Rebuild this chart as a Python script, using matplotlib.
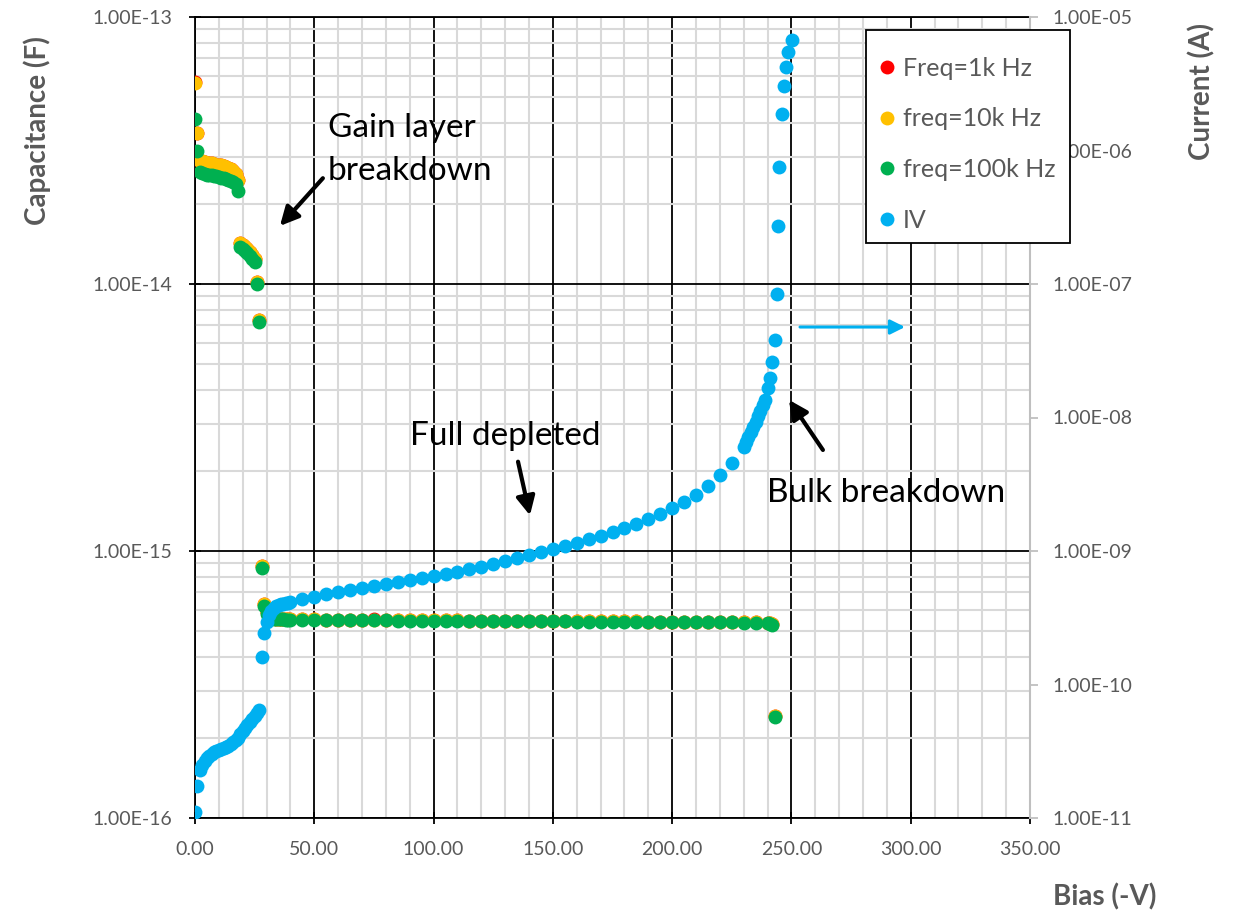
import numpy as np
import matplotlib
matplotlib.use('Agg')
import matplotlib.pyplot as plt
from matplotlib.ticker import MultipleLocator, FixedLocator, LogLocator, FuncFormatter, NullFormatter, NullLocator
from matplotlib.lines import Line2D
from matplotlib.patches import Rectangle

plt.rcParams['font.family'] = ['Lato', 'DejaVu Sans']

# ---- datos C-V (capacitancia en fF) ----
cv_bias = [0, 1, 2, 3, 4, 5, 6, 7, 8, 9, 10, 11, 12, 13, 14, 15, 16, 17, 18, 19,
           20, 21, 22, 23, 24, 25, 26, 27, 28, 29, 30, 31, 32, 33, 34, 35, 36, 37, 38, 39,
           40, 45, 50, 55, 60, 65, 70, 75, 80, 85, 90, 95, 100, 105, 110, 115, 120, 125,
           130, 135, 140, 145, 150, 155, 160, 165, 170, 175, 180, 185, 190, 195, 200,
           205, 210, 215, 220, 225, 230, 235, 240, 241, 242, 243]

c_1k_ff = [56.9, 36.9, 28.9, 28.8, 28.6, 28.5, 28.4, 28.3, 28.1, 28.0, 27.9, 27.8, 27.7, 27.4,
           27.2, 27.0, 26.5, 25.8, 24.5, 14.2, 14.0, 13.8, 13.5, 13.2, 12.8, 12.4, 10.2, 7.33,
           0.880, 0.634, 0.591, 0.572, 0.565, 0.560, 0.558, 0.557, 0.556, 0.556, 0.555, 0.555,
           0.555, 0.554, 0.554, 0.553, 0.553, 0.553, 0.552, 0.554, 0.552, 0.551,
           0.551, 0.551, 0.550, 0.552, 0.550, 0.549, 0.549, 0.549, 0.548, 0.548,
           0.548, 0.547, 0.547, 0.547, 0.546, 0.546, 0.546, 0.545, 0.547, 0.545,
           0.544, 0.544, 0.544, 0.543, 0.543, 0.543, 0.542, 0.542, 0.541, 0.540, 0.539,
           0.536, 0.531, 0.241]

c_10k_ff = [56.6, 36.8, 28.9, 28.8, 28.6, 28.5, 28.4, 28.3, 28.1, 28.0, 27.9, 27.8, 27.7, 27.4,
            27.2, 27.0, 26.5, 25.8, 24.5, 14.2, 14.0, 13.8, 13.5, 13.2, 12.8, 12.4, 10.2, 7.33,
            0.879, 0.633, 0.591, 0.572, 0.565, 0.560, 0.558, 0.557, 0.556, 0.556, 0.555, 0.555,
            0.555, 0.554, 0.554, 0.553, 0.553, 0.553, 0.552, 0.552, 0.552, 0.551,
            0.551, 0.551, 0.550, 0.550, 0.550, 0.549, 0.549, 0.549, 0.548, 0.548,
            0.548, 0.547, 0.547, 0.547, 0.546, 0.546, 0.546, 0.545, 0.545, 0.545,
            0.544, 0.544, 0.544, 0.543, 0.543, 0.543, 0.542, 0.542, 0.541, 0.540, 0.539,
            0.536, 0.531, 0.241]

c_100k_ff = [41.5, 31.5, 26.3, 26.0, 25.8, 25.7, 25.6, 25.5, 25.4, 25.3, 25.2, 25.0, 24.9, 24.7,
             24.5, 24.3, 24.1, 23.7, 22.3, 13.8, 13.5, 13.3, 13.1, 12.7, 12.4, 12.1, 10.0, 7.21,
             0.864, 0.622, 0.581, 0.568, 0.562, 0.558, 0.556, 0.555, 0.554, 0.554, 0.553, 0.553,
             0.553, 0.552, 0.552, 0.551, 0.551, 0.551, 0.550, 0.550, 0.550, 0.549,
             0.549, 0.549, 0.548, 0.548, 0.548, 0.547, 0.547, 0.547, 0.546, 0.546,
             0.546, 0.545, 0.545, 0.545, 0.544, 0.544, 0.544, 0.543, 0.543, 0.543,
             0.542, 0.542, 0.542, 0.541, 0.541, 0.541, 0.540, 0.540, 0.539, 0.538, 0.537,
             0.534, 0.529, 0.239]

# ---- datos I-V (corriente en A) ----
iv_bias = [0, 1, 2, 3, 4, 5, 6, 7, 8, 9, 10, 11, 12, 13, 14, 15, 16, 17, 18, 19,
           20, 21, 22, 23, 24, 25, 26, 27, 28, 29, 30, 31, 32, 33, 34, 35, 36, 37, 38, 39,
           40, 45, 50, 55, 60, 65, 70, 75, 80, 85, 90, 95, 100, 105, 110, 115, 120, 125,
           130, 135, 140, 145, 150, 155, 160, 165, 170, 175, 180, 185, 190, 195, 200,
           205, 210, 215, 220, 225, 230, 231, 232, 233, 234, 235, 236, 237, 238, 239,
           240, 241, 242, 243, 243.8, 244.2, 244.8, 246, 246.9, 247.7, 248.5, 250.2]

iv_current = [1.11e-11, 1.74e-11, 2.29e-11, 2.50e-11, 2.68e-11, 2.81e-11, 2.91e-11, 3.01e-11,
              3.12e-11, 3.18e-11, 3.23e-11, 3.29e-11, 3.34e-11, 3.40e-11, 3.46e-11, 3.58e-11,
              3.71e-11, 3.84e-11, 3.97e-11, 4.26e-11, 4.48e-11, 4.72e-11, 4.98e-11, 5.24e-11,
              5.52e-11, 5.81e-11, 6.12e-11, 6.44e-11, 1.61e-10, 2.43e-10, 2.94e-10, 3.32e-10,
              3.56e-10, 3.74e-10, 3.87e-10, 3.94e-10, 4.01e-10, 4.04e-10, 4.08e-10, 4.11e-10,
              4.15e-10, 4.37e-10, 4.52e-10, 4.76e-10, 4.93e-10, 5.11e-10, 5.28e-10, 5.47e-10,
              5.66e-10, 5.86e-10, 6.07e-10, 6.28e-10, 6.50e-10, 6.73e-10, 7.02e-10, 7.33e-10,
              7.65e-10, 8.00e-10, 8.42e-10, 8.87e-10, 9.34e-10, 9.83e-10, 1.04e-9, 1.09e-9,
              1.15e-9, 1.22e-9, 1.29e-9, 1.39e-9, 1.49e-9, 1.59e-9, 1.74e-9, 1.89e-9, 2.10e-9,
              2.33e-9, 2.62e-9, 3.07e-9, 3.71e-9, 4.56e-9, 6.01e-9, 6.55e-9, 7.14e-9, 7.78e-9,
              8.49e-9, 9.25e-9, 1.03e-8, 1.12e-8, 1.24e-8, 1.35e-8, 1.66e-8, 1.98e-8, 2.61e-8,
              3.81e-8, 8.41e-8, 2.72e-7, 7.52e-7, 1.88e-6, 3.04e-6, 4.22e-6, 5.47e-6, 6.73e-6]

labels = ['Freq=1k Hz', 'freq=10k Hz', 'freq=100k Hz', 'IV']
colors = ['#FF0000', '#FFC000', '#00B050', '#00B0F0']

cap_ticks = [1e-16, 1e-15, 1e-14, 1e-13]
cur_ticks = [1e-11, 1e-10, 1e-9, 1e-8, 1e-7, 1e-6, 1e-5]

GRAY = '#595959'
MS = 10
W, H = 1237, 915

fig = plt.figure(figsize=(W / 100, H / 100), dpi=100)
ax = fig.add_axes([195 / W, 97 / H, 835 / W, 801 / H])
ax2 = ax.twinx()

fF = 1e-15
for vals, col in zip([c_1k_ff, c_10k_ff, c_100k_ff], colors[:3]):
    ax.plot(cv_bias, np.array(vals) * fF, 'o', color=col, ms=MS, mec='none', zorder=3)
ax2.plot(iv_bias, iv_current, 'o', color=colors[3], ms=MS, mec='none', zorder=3)

# ejes
ax.set_xlim(0, 350)
ax.set_yscale('log')
ax.set_ylim(1e-16, 1e-13)
ax2.set_yscale('log')
ax2.set_ylim(1e-11, 1e-5)

ax.xaxis.set_major_locator(MultipleLocator(50))
ax.xaxis.set_minor_locator(MultipleLocator(10))
ax.xaxis.set_major_formatter(FuncFormatter(lambda v, p: f'{v:.2f}'))
ax.yaxis.set_major_locator(FixedLocator(cap_ticks))
ax.yaxis.set_minor_locator(LogLocator(base=10, subs=range(2, 10), numticks=20))
ax.yaxis.set_minor_formatter(NullFormatter())
ax.yaxis.set_major_formatter(FuncFormatter(lambda v, p: f'{v:.2E}'))

ax2.yaxis.set_major_locator(FixedLocator(cur_ticks))
ax2.yaxis.set_minor_locator(NullLocator())
ax2.yaxis.set_major_formatter(FuncFormatter(lambda v, p: f'{v:.2E}'))

ax.set_axisbelow(True)
ax.grid(which='minor', color='#d9d9d9', lw=1.5)
ax.grid(which='major', color='black', lw=1.3)

ax.tick_params(which='major', direction='inout', length=9, width=1.3, color='black',
               labelsize=14, labelcolor=GRAY, pad=12)
ax.tick_params(which='minor', length=0)
ax2.tick_params(axis='y', which='major', direction='out', length=6, width=1.3,
                color='#bfbfbf', labelsize=14, labelcolor=GRAY, pad=10)

for s in ['left', 'bottom', 'top']:
    ax.spines[s].set_color('black')
    ax.spines[s].set_linewidth(1.3)
    ax2.spines[s].set_visible(False)
ax.spines['right'].set_visible(False)
ax2.spines['right'].set_color('#bfbfbf')
ax2.spines['right'].set_linewidth(1.5)

# titulos de ejes
fig.text(37 / W, 1 - 131 / H, 'Capacitance (F)', rotation=90, ha='center', va='center',
         fontsize=20, fontweight='bold', color=GRAY)
fig.text(1202 / W, 1 - 92 / H, 'Current (A)', rotation=90, ha='center', va='center',
         fontsize=20, fontweight='bold', color=GRAY)
fig.text(1105 / W, 1 - 897 / H, 'Bias (-V)', ha='center', va='center',
         fontsize=20, fontweight='bold', color=GRAY)

# anotaciones
ax.text(55.7, 3.19e-14, 'Gain layer\nbreakdown', ha='left', va='center', fontsize=24,
        linespacing=1.55, color='black')
ax.text(90.1, 2.70e-15, 'Full depleted', ha='left', va='center', fontsize=24, color='black')
ax.text(239.7, 1.65e-15, 'Bulk breakdown', ha='left', va='center', fontsize=24, color='black')

arrow_k = dict(arrowstyle='-|>', color='black', lw=3, mutation_scale=28, shrinkA=0, shrinkB=0)
ax.annotate('', xy=(35.6, 1.65e-14), xytext=(53.6, 2.49e-14), arrowprops=arrow_k)
ax.annotate('', xy=(140.4, 1.36e-15), xytext=(135.4, 2.16e-15), arrowprops=arrow_k)
ax.annotate('', xy=(249.0, 3.68e-15), xytext=(263.2, 2.39e-15), arrowprops=arrow_k)
ax.annotate('', xy=(297.6, 6.90e-15), xytext=(253.6, 6.90e-15),
            arrowprops=dict(arrowstyle='-|>', color=colors[3], lw=2.2, mutation_scale=22,
                            shrinkA=0, shrinkB=0))

# leyenda (marco dibujado aparte, como en Excel)
fig.add_artist(Rectangle((866 / W, 1 - 243 / H), 204 / W, 213 / H, transform=fig.transFigure,
                         facecolor='white', edgecolor='black', lw=1.3, zorder=4))
handles = [Line2D([], [], ls='none', marker='o', ms=MS, color=c, mec='none') for c in colors]
leg = fig.legend(handles, labels, loc='upper left', bbox_to_anchor=(878 / W, 1 - 57 / H),
                 fontsize=18, labelcolor=GRAY, frameon=False, handlelength=0.7,
                 handletextpad=0.3, labelspacing=1.1, borderpad=0, borderaxespad=0)
leg.set_zorder(5)

fig.savefig('out.png', dpi=100)
